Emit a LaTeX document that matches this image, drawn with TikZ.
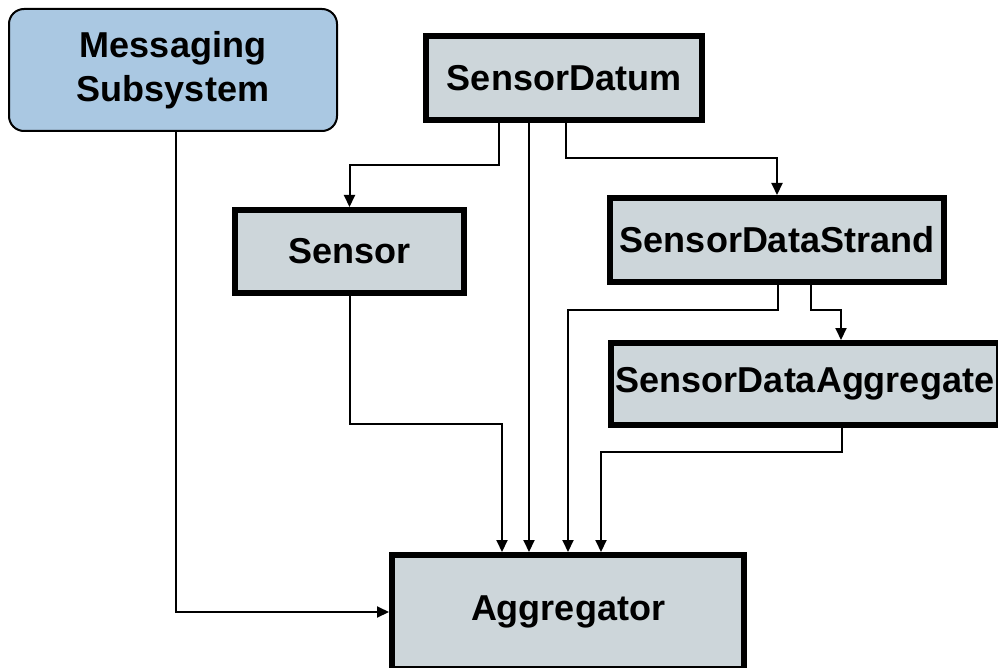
\documentclass[tikz,border=0pt]{standalone}
\usepackage{fontspec}
\setmainfont{Liberation Sans}
\usetikzlibrary{arrows.meta}
\definecolor{boxfill}{RGB}{205,214,218}
\definecolor{msgfill}{RGB}{170,200,226}
\begin{document}
\begin{tikzpicture}[x=1pt,y=-1pt,
  cls/.style={draw=black, line width=6pt, fill=boxfill, inner sep=0pt,
    font=\fontsize{36}{44}\selectfont\bfseries, text=black},
  msg/.style={draw=black, line width=2pt, fill=msgfill, rounded corners=15pt, inner sep=0pt,
    align=center, font=\fontsize{36}{44}\selectfont\bfseries, text=black},
  arr/.style={draw=black, line width=2pt, -{Triangle[length=12pt,width=11pt]}}]
\useasboundingbox (0,0) rectangle (998,668);
\fill[white] (0,0) rectangle (998,668);

\node[msg, minimum width=328pt, minimum height=122pt] (ms) at (173,70) {Messaging\\Subsystem};
\node[cls, minimum width=276pt, minimum height=84pt] (sd) at (564,78) {SensorDatum};
\node[cls, minimum width=229pt, minimum height=83pt] (s) at (349.5,251.5) {Sensor};
\node[cls, minimum width=334pt, minimum height=84pt] (st) at (777,240) {SensorDataStrand};
\node[cls, minimum width=388pt, minimum height=82pt] (ag) at (805,384) {SensorDataAggregate};
\node[cls, minimum width=352pt, minimum height=114pt] (agg) at (568,612) {Aggregator};

% SensorDatum -> Sensor
\draw[arr] ([xshift=-65pt]sd.south) -- ++(0,42) -| (s.north);
% SensorDatum -> Aggregator
\draw[arr] ([xshift=-35pt]sd.south) -- ([xshift=-35pt]agg.north -| sd.south);
% SensorDatum -> SensorDataStrand
\draw[arr] ([xshift=2pt]sd.south) -- ++(0,35) -| (st.north);
% Sensor -> Aggregator
\draw[arr] (s.south) -- ++(0,128) -| ([xshift=-66pt]agg.north);
% SensorDataStrand -> Aggregator
\draw[arr] ([xshift=1pt]st.south) -- ++(0,25) -| (agg.north);
% SensorDataStrand -> SensorDataAggregate
\draw[arr] ([xshift=34pt]st.south) -- ++(0,25) -| ([xshift=36pt]ag.north);
% SensorDataAggregate -> Aggregator
\draw[arr] ([xshift=37pt]ag.south) -- ++(0,24) -| ([xshift=33pt]agg.north);
% Messaging -> Aggregator
\draw[arr] ([xshift=3pt]ms.south) |- (agg.west);
\end{tikzpicture}
\end{document}
